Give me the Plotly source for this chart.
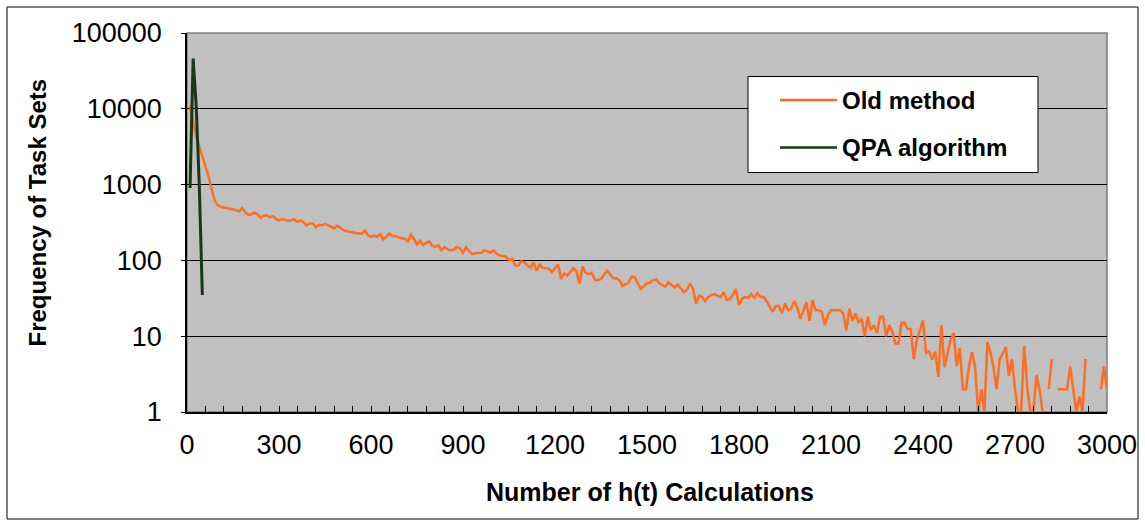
import plotly.graph_objects as go

# ---------------- data ----------------
categories = list(range(0, 3001, 10))          # number of h(t) calculations

old_method = [
    None, 11000, 6500, 4300, 3200, 2400, 1750, 1300, 880, 620,      # 0-90
    540, 510, 500, 490, 485, 470, 460, 445, 490, 430,               # 100-190
    398, 405, 425, 405, 365, 388, 392, 373, 382, 355,               # 200-290
    335, 352, 345, 333, 338, 347, 322, 337, 318, 290,               # 300-390
    305, 308, 272, 295, 292, 302, 292, 278, 264, 287,               # 400-490
    266, 250, 243, 237, 234, 230, 228, 225, 247, 215,               # 500-590
    205, 213, 205, 220, 188, 205, 225, 210, 210, 200,               # 600-690
    197, 193, 178, 218, 192, 162, 182, 160, 170, 177,               # 700-790
    155, 152, 158, 137, 150, 140, 136, 138, 150, 145,               # 800-890
    126, 150, 133, 121, 124, 125, 126, 136, 131, 127,               # 900-990
    135, 122, 116, 115, 112, 100, 105, 86, 85, 97,                  # 1000-1090
    94, 86, 80, 95, 73, 88, 80, 79, 78, 70,                         # 1100-1190
    78, 88, 57, 67, 63, 70, 79, 72, 49, 83,                         # 1200-1290
    68, 66, 69, 55, 55, 57, 65, 73, 65, 58,                         # 1300-1390
    58, 55, 46, 48, 51, 61, 60, 50, 42, 46,                         # 1400-1490
    50, 51, 55, 56, 50, 47, 45, 51, 48, 44,                         # 1500-1590
    48, 42, 38, 41, 50, 42, 27, 34, 33, 29,                         # 1600-1690
    33, 35, 36, 34, 33, 38, 30, 31, 35, 42,                         # 1700-1790
    26, 31, 33, 32, 36, 32, 37, 33, 33, 29,                         # 1800-1890
    25, 21, 25, 25, 20, 27, 22, 23, 29, 24,                         # 1900-1990
    17, 22, 28, 16, 30, 22, 22, 21, 14, 19,                         # 2000-2090
    22, 22, 22, 22, 20, 12, 23, 16, 20, 15,                         # 2100-2190
    17, 10, 18, 12, 14, 11, 18, 18, 10, 14,                         # 2200-2290
    11.5, 8, 8, 15, 15, 12.4, 12.4, 5, 9, 12,                       # 2300-2390
    16, 6, 6.3, 4.9, 6.3, 2.9, 14, 3.9, 6, 9,                       # 2400-2490
    11, 4, 7, 2, 2, 4, 6.2, 3.9, 1, 2,                              # 2500-2590
    1, 8.4, 6, 3.9, 2, 5, 5.9, 7.2, 3, 5,                           # 2600-2690
    2, 1, 1, 7.4, 2.1, 1, 1, 3.1, 2, 1,                             # 2700-2790
    None, 2, 5, None, 2, 2, 2, 2, 4, 2,                             # 2800-2890
    1, 1.6, 1, 5, None, None, None, None, 2, 4,                     # 2900-2990
    2,                                                              # 3000
]

qpa_x = [10, 20, 30, 40, 50]
qpa_algorithm = [900, 46000, 11000, 1000, 35]

series_names = ["Old method", "QPA algorithm"]
series_colors = ["#FF6D21", "#183818"]

x_ticks = list(range(0, 3001, 300))
y_ticks = [1, 10, 100, 1000, 10000, 100000]
y_ticktext = [str(v) for v in y_ticks]

x_title = "Number of h(t) Calculations"
y_title = "Frequency of Task Sets"

FONT = "Liberation Sans, Arial, sans-serif"

fig = go.Figure()
fig.add_trace(go.Scatter(x=categories, y=old_method, mode="lines",
                         name=series_names[0], connectgaps=False,
                         line=dict(color=series_colors[0], width=2.5),
                         showlegend=False))
fig.add_trace(go.Scatter(x=qpa_x, y=qpa_algorithm, mode="lines",
                         name=series_names[1],
                         line=dict(color=series_colors[1], width=3),
                         showlegend=False))

# plot area: x 187..1107, y 33..412 in a 1145x522 page
L, R, T, B = 187, 38, 33, 110
W, H = 1145 - L - R, 522 - T - B


def px_x(px):
    return (px - L) / W


def px_y(py):
    return (522 - B - py) / H


shapes = [
    # plot-area frame
    dict(type="rect", xref="paper", yref="paper", x0=0, x1=1, y0=0, y1=1,
         line=dict(color="#808080", width=1.5), layer="below"),
    # chart-area outer border
    dict(type="rect", xref="paper", yref="paper",
         x0=px_x(7), x1=px_x(1138), y0=px_y(519), y1=px_y(7),
         line=dict(color="black", width=1)),
    # legend box
    dict(type="rect", xref="paper", yref="paper",
         x0=px_x(748), x1=px_x(1038), y0=px_y(172.5), y1=px_y(76.5),
         line=dict(color="black", width=1), fillcolor="white"),
]
annotations = [
    dict(text="<b>" + x_title + "</b>", xref="paper", yref="paper",
         x=px_x(650), y=px_y(492), xanchor="center", yanchor="middle",
         showarrow=False, font=dict(family=FONT, size=25, color="black")),
    dict(text="<b>" + y_title + "</b>", xref="paper", yref="paper",
         x=px_x(37), y=px_y(212.5), xanchor="center", yanchor="middle",
         textangle=-90, showarrow=False,
         font=dict(family=FONT, size=24, color="black")),
]
legend_rows = [100, 147.5]
for name, color, ry in zip(series_names, series_colors, legend_rows):
    shapes.append(dict(type="line", xref="paper", yref="paper",
                       x0=px_x(780), x1=px_x(837), y0=px_y(ry), y1=px_y(ry),
                       line=dict(color=color, width=2.5)))
    annotations.append(dict(text="<b>" + name + "</b>", xref="paper", yref="paper",
                            x=px_x(840), y=px_y(ry), xanchor="left", yanchor="middle",
                            showarrow=False,
                            font=dict(family=FONT, size=24, color="black")))

fig.update_layout(
    width=1145, height=522,
    margin=dict(l=L, r=R, t=T, b=B, autoexpand=False),
    paper_bgcolor="white",
    plot_bgcolor="#C0C0C0",
    font=dict(family=FONT, color="black"),
    shapes=shapes,
    annotations=annotations,
    showlegend=False,
    xaxis=dict(
        range=[0, 3000], tickmode="array", tickvals=x_ticks,
        ticks="inside", ticklen=6, tickcolor="black", tickwidth=1,
        minor=dict(dtick=60, tick0=0, ticks="inside", ticklen=6,
                   tickcolor="black", tickwidth=1, showgrid=False),
        showgrid=False, zeroline=False,
        showline=True, linecolor="black", linewidth=2,
        tickfont=dict(family=FONT, size=27, color="black"),
        ticklabelstandoff=8,
    ),
    yaxis=dict(
        type="log", range=[0, 5], tickmode="array",
        tickvals=y_ticks, ticktext=y_ticktext,
        ticks="outside", ticklen=4, tickcolor="black",
        showgrid=True, gridcolor="black", gridwidth=1,
        showline=True, linecolor="black", linewidth=1.5,
        zeroline=False,
        tickfont=dict(family=FONT, size=27, color="black"),
        ticklabelstandoff=14,
    ),
)

fig.write_html("out.html")
